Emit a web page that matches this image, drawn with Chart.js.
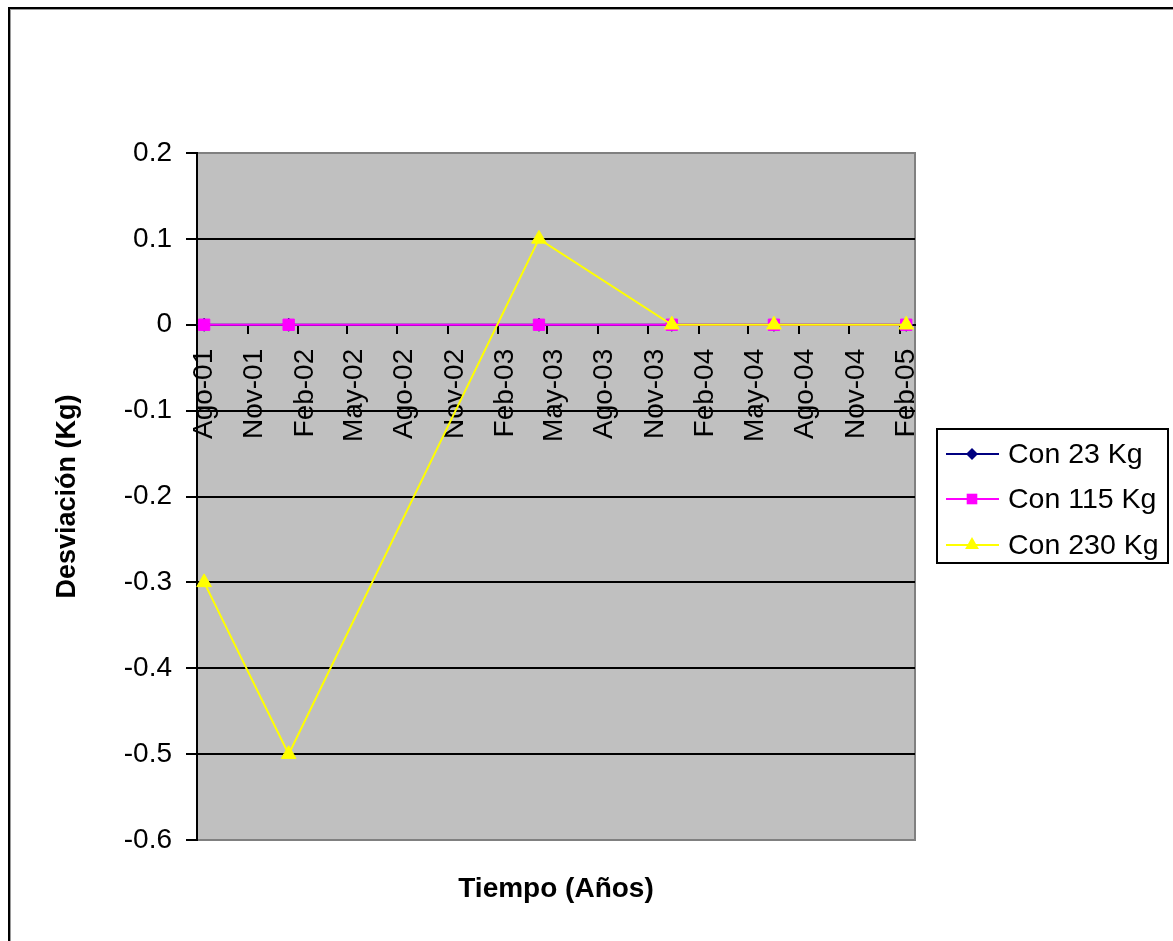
<!DOCTYPE html>
<html>
<head>
<meta charset="utf-8">
<script src="https://cdn.jsdelivr.net/npm/chart.js@4.4.1/dist/chart.umd.min.js"></script>
<style>
  html, body { margin: 0; padding: 0; background: #fff; overflow: hidden; }
  #wrap { position: relative; width: 1173px; height: 941px; }
</style>
</head>
<body>
<div id="wrap"><canvas id="c" width="1173" height="941"></canvas></div>
<script>
// Sampling dates and deviations for each load
const sampleDates = ['2001-08-14', '2002-01-15', '2003-04-16', '2003-12-14', '2004-06-17', '2005-02-13'];
const con23  = [0, 0, 0, 0, 0, 0];
const con115 = [0, 0, 0, 0, 0, 0];
const con230 = [-0.3, -0.5, 0.1, 0, 0, 0];
const seriesNames = ['Con 23 Kg', 'Con 115 Kg', 'Con 230 Kg'];

// Time axis: quarterly ticks
const axisStart = '2001-08-01';
const axisEnd = '2005-03-01';
const tickDates = ['2001-08-01', '2001-11-01', '2002-02-01', '2002-05-01', '2002-08-01', '2002-11-01',
  '2003-02-01', '2003-05-01', '2003-08-01', '2003-11-01', '2004-02-01', '2004-05-01',
  '2004-08-01', '2004-11-01', '2005-02-01'];
const tickLabels = ['Ago-01', 'Nov-01', 'Feb-02', 'May-02', 'Ago-02', 'Nov-02', 'Feb-03', 'May-03',
  'Ago-03', 'Nov-03', 'Feb-04', 'May-04', 'Ago-04', 'Nov-04', 'Feb-05'];
const yTicks = [0.2, 0.1, 0, -0.1, -0.2, -0.3, -0.4, -0.5, -0.6];

const FONT = '"Liberation Sans", Arial, sans-serif';
const day = s => (Date.parse(s) - Date.parse(axisStart)) / 864e5;

function series(label, values, color, style, radius, order) {
  return {
    label,
    data: sampleDates.map((d, i) => ({ x: day(d), y: values[i] })),
    borderColor: color,
    backgroundColor: color,
    borderWidth: 2,
    pointStyle: style,
    pointRadius: radius,
    pointHoverRadius: radius,
    pointBorderWidth: 1,
    pointBorderColor: color,
    pointBackgroundColor: color,
    tension: 0,
    clip: false,
    order
  };
}

const datasets = [
  series(seriesNames[0], con23, '#000080', 'rectRot', 6.5, 3),
  series(seriesNames[1], con115, '#FF00FF', 'rect', 8, 2),
  series(seriesNames[2], con230, '#FFFF00', 'triangle', 8.5, 1)
];

function marker(ctx, style, x, y, r, color) {
  ctx.save();
  ctx.fillStyle = color;
  ctx.beginPath();
  if (style === 'rect') {
    const s = r * Math.SQRT1_2;
    ctx.rect(x - s, y - s, 2 * s, 2 * s);
  } else if (style === 'rectRot') {
    ctx.moveTo(x, y - r); ctx.lineTo(x + r, y); ctx.lineTo(x, y + r); ctx.lineTo(x - r, y);
    ctx.closePath();
  } else {
    const w = r * Math.sin(Math.PI / 3);
    ctx.moveTo(x, y - r); ctx.lineTo(x + w, y + r / 2); ctx.lineTo(x - w, y + r / 2);
    ctx.closePath();
  }
  ctx.fill();
  ctx.restore();
}

const framePlugin = {
  id: 'frame',
  beforeDraw(chart) {
    const { ctx, chartArea: a } = chart;
    ctx.save();
    // outer chart border
    ctx.strokeStyle = '#000';
    ctx.lineWidth = 2;
    ctx.strokeRect(9, 8, 2000, 2000);
    ctx.strokeStyle = '#9a9a9a';
    ctx.lineWidth = 1;
    ctx.strokeRect(10.5, 9.5, 2000, 2000);
    // plot area
    ctx.fillStyle = '#C0C0C0';
    ctx.fillRect(a.left, a.top, a.right - a.left, a.bottom - a.top);
    ctx.strokeStyle = '#808080';
    ctx.lineWidth = 2;
    ctx.strokeRect(a.left, a.top, a.right - a.left, a.bottom - a.top);
    ctx.restore();
  },
  afterDraw(chart) {
    const { ctx, chartArea: a } = chart;
    ctx.save();
    // x axis title
    ctx.fillStyle = '#000';
    ctx.font = 'bold 28px ' + FONT;
    ctx.textAlign = 'center';
    ctx.textBaseline = 'middle';
    ctx.fillText('Tiempo (Años)', (a.left + a.right) / 2, 889);
    // legend
    ctx.fillStyle = '#fff';
    ctx.fillRect(937, 429, 231, 134);
    ctx.strokeStyle = '#000';
    ctx.lineWidth = 2;
    ctx.strokeRect(937, 429, 231, 134);
    const rows = [454, 499, 545];
    datasets.forEach((d, i) => {
      const y = rows[i];
      ctx.strokeStyle = d.borderColor;
      ctx.lineWidth = 2;
      ctx.beginPath();
      ctx.moveTo(946, y); ctx.lineTo(999, y);
      ctx.stroke();
      marker(ctx, d.pointStyle, 972, y, d.pointRadius - 0.5, d.borderColor);
      ctx.fillStyle = '#000';
      ctx.font = '28.5px ' + FONT;
      ctx.textAlign = 'left';
      ctx.textBaseline = 'middle';
      ctx.fillText(d.label, 1008, y + 1);
    });
    ctx.restore();
  }
};

new Chart(document.getElementById('c'), {
  type: 'line',
  data: { datasets },
  plugins: [framePlugin],
  options: {
    responsive: false,
    animation: false,
    events: [],
    layout: { padding: { left: 0, top: 153, right: 258, bottom: 101 } },
    plugins: { legend: { display: false }, tooltip: { enabled: false } },
    scales: {
      x: {
        type: 'linear',
        position: { y: 0 },
        min: 0,
        max: day(axisEnd),
        afterBuildTicks: s => { s.ticks = tickDates.map(d => ({ value: day(d) })); },
        afterFit: s => { s.paddingLeft = 0; s.paddingRight = 0; },
        ticks: {
          autoSkip: false,
          minRotation: 90,
          maxRotation: 90,
          padding: 16,
          labelOffset: 7,
          color: '#000',
          font: { family: FONT, size: 28 },
          callback: (v, i) => tickLabels[i]
        },
        grid: { drawOnChartArea: false, drawTicks: true, tickLength: 8, color: '#000', lineWidth: 2 },
        border: { display: true, color: '#000', width: 2 }
      },
      y: {
        type: 'linear',
        min: -0.6,
        max: 0.2,
        afterBuildTicks: s => { s.ticks = yTicks.map(v => ({ value: v })); },
        afterFit: s => { s.width = 197; },
        ticks: {
          padding: 14,
          color: '#000',
          font: { family: FONT, size: 28 },
          callback: (v) => String(yTicks.find(t => Math.abs(t - v) < 1e-9))
        },
        grid: {
          color: c => (c.tick && (Math.abs(c.tick.value - 0.2) < 1e-9 || Math.abs(c.tick.value + 0.6) < 1e-9)) ? 'rgba(0,0,0,0)' : '#000',
          tickColor: '#000',
          lineWidth: 2,
          tickLength: 11
        },
        border: { display: true, color: '#000', width: 2 },
        title: {
          display: true,
          text: 'Desviación (Kg)',
          color: '#000',
          font: { family: FONT, size: 27, weight: 'bold' },
          padding: { top: 51, bottom: 0 }
        }
      }
    }
  }
});
</script>
</body>
</html>
